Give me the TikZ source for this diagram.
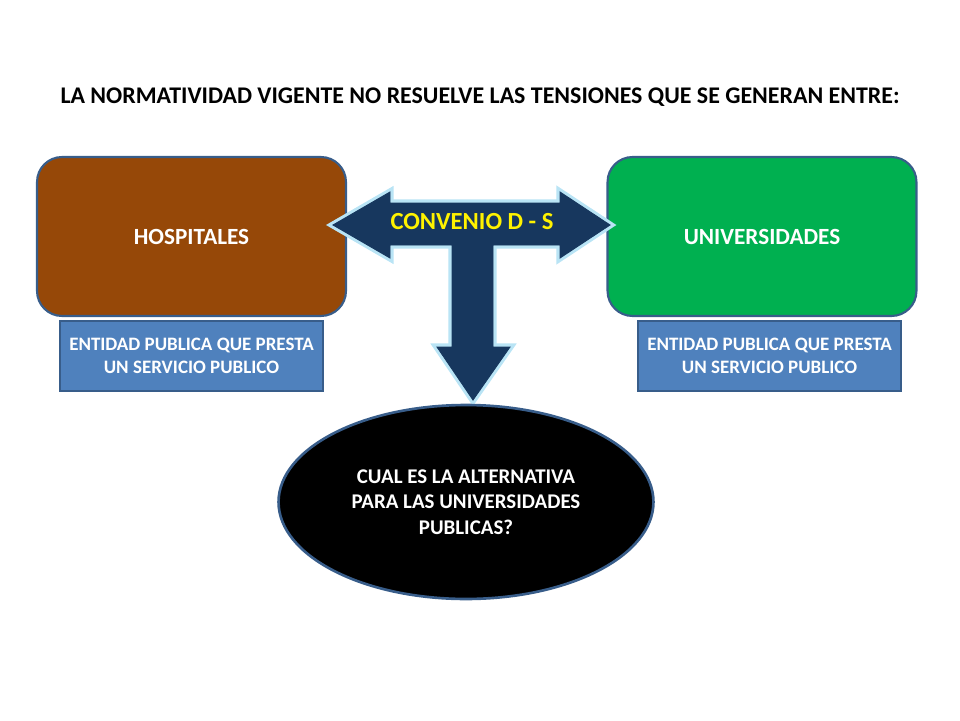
\documentclass[tikz,border=0pt]{standalone}
\usepackage{fontspec}
\setmainfont{Carlito}
\usepackage{tikz}
\usetikzlibrary{positioning, shapes.geometric}
\definecolor{hsBrown}{RGB}{150, 72, 8}
\definecolor{hsGreen}{RGB}{0, 176, 80}
\definecolor{hsBlue}{RGB}{79, 129, 189}
\definecolor{hsEdge}{RGB}{56, 93, 138}
\definecolor{hsNavy}{RGB}{23, 55, 94}
\definecolor{hsGlow}{RGB}{185, 228, 245}
\tikzset{
    base/.style={
        font=\bfseries,
        align=center
    },
    entity/.style={
        base,
        rectangle,
        rounded corners=5mm,
        draw=hsEdge,
        line width=1.2pt,
        text=white,
        font=\bfseries\fontsize{13.2}{15}\selectfont,
        minimum width=6.18cm,
        minimum height=3.18cm
    },
    tag/.style={
        base,
        rectangle,
        draw=hsEdge,
        line width=1pt,
        fill=hsBlue,
        text=white,
        font=\bfseries\fontsize{10.8}{13}\selectfont,
        minimum width=5.26cm,
        minimum height=1.4cm
    },
    glowline/.style={draw=hsGlow, line width=4pt},
    navyfill/.style={fill=hsNavy, draw=hsNavy, line width=0.5pt}
}
\begin{document}
\begin{tikzpicture}[x=0.02cm, y=-0.02cm]
  \useasboundingbox (0,0) rectangle (960,720);

  \node[base, font=\bfseries\fontsize{13.6}{15}\selectfont] (title) at (480,97)
    {LA NORMATIVIDAD VIGENTE NO RESUELVE LAS TENSIONES QUE SE GENERAN ENTRE:};

  % Entities
  \node[entity, fill=hsBrown] (hosp) at (191.5,236.5) {HOSPITALES};
  \node[entity, fill=hsGreen] (univ) at (762,236.5) {UNIVERSIDADES};
  \node[tag] (hospTag) at (191.5,356) {ENTIDAD PUBLICA QUE PRESTA\\UN SERVICIO PUBLICO};
  \node[tag] (univTag) at (769.5,356) {ENTIDAD PUBLICA QUE PRESTA\\UN SERVICIO PUBLICO};

  % T arrow
  \foreach \look in {glowline, navyfill}
    \path[line join=miter, \look] (333,225) -- (390,192) -- (390,203) -- (560,203) -- (560,192)
      -- (610,225) -- (560,258) -- (560,245) -- (493,245) -- (493,347) -- (510,347)
      -- (473,400) -- (437,347) -- (452,347) -- (452,245) -- (390,245) -- (390,258) -- cycle;
  \node[base, text=yellow, font=\bfseries\fontsize{14}{16}\selectfont] (convenio) at (472,222) {CONVENIO D - S};

  % Question
  \node[base, ellipse, fill=black, draw=hsEdge, line width=1.5pt, text=white,
    minimum width=7.5cm, minimum height=3.88cm, font=\bfseries\fontsize{11.9}{14.5}\selectfont]
    (question) at (466,502) {CUAL ES LA ALTERNATIVA\\PARA LAS UNIVERSIDADES\\PUBLICAS?};
\end{tikzpicture}
\end{document}
